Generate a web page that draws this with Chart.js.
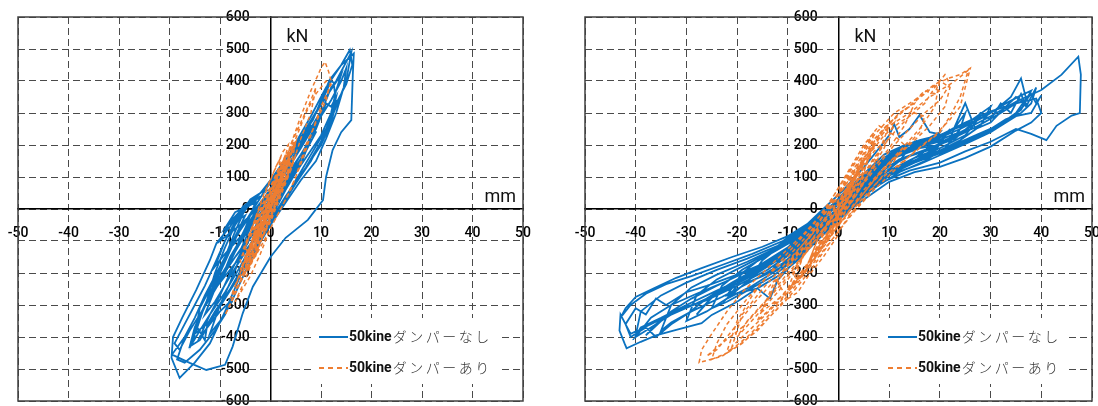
<!DOCTYPE html>
<html>
<head>
<meta charset="utf-8">
<script src="https://cdn.jsdelivr.net/npm/chart.js@4"></script>
<style>
html, body { margin: 0; padding: 0; background: #fff; }
.panel { position: absolute; top: 0; width: 549px; height: 406px; }
</style>
</head>
<body>
<div class="panel" style="left:0"><canvas id="leftChart" width="549" height="406"></canvas></div>
<div class="panel" style="left:549px"><canvas id="rightChart" width="549" height="406"></canvas></div>
<script>
// axis ranges / units
const xRange = [-50, 50];
const xStep = 10;
const yRange = [-600, 600];
const yStep = 100;
const unitX = 'mm';
const unitY = 'kN';
const seriesLabels = ['50kineダンパーなし', '50kineダンパーあり'];

// left panel: displacement (mm), load (kN)
const leftNoDamper = [
  [0,0],[2,50],[4,100],[5,130],[3,70],[0,-10],[-3,-70],[-6,-130],
  [-4,-60],[-1,10],[3,100],[6,170],[8,220],[6,140],[3,60],[0,-30],[-4,-110],[-8,-190],[-10,-230],
  [-8,-150],[-5,-70],[-2,10],[2,100],[6,200],[9,280],[11,330],[9,250],[6,170],[3,90],[0,0],[-4,-110],[-8,-210],[-11,-290],[-13,-330],
  [-11,-250],[-8,-160],[-5,-60],[-1,40],[3,140],[7,250],[10,330],[12,400],[12.5,395],[13,330],[12,270],[10,200],[7,130],[3,40],[-1,-60],[-5,-170],[-9,-280],[-12,-350],[-15,-390],
  [-14,-310],[-11,-220],[-8,-120],[-5,-40],[-1,60],[4,180],[8,290],[11,380],[14,450],[15.7,497],[16.2,450],[15,390],[13,330],[11,250],[8,170],[5,90],[2,10],[-2,-90],[-6,-210],[-9,-320],[-12,-420],[-15,-480],[-18,-528],
  [-19.6,-465],[-19.3,-400],[-17.5,-340],[-14.7,-253],[-12,-160],[-10.7,-107],[-8,-55],[-5.5,7],[-2,50],[0,90],[4,180],[8.4,278],[11.7,403],[14,450],[16.5,486],[16.3,420],[16,278],[14,240],[12.3,184],[11,100],[10.4,28],[7.4,-34],[3,-90],[0,-150],[-3.5,-243],[-5.5,-326],[-7.5,-430],[-9,-487],[-12.7,-503],[-16,-481],[-19.5,-455],
  [-17,-400],[-15,-340],[-13,-270],[-10,-180],[-7,-90],[-4,-20],[0,60],[4,150],[7,230],[10,300],[12,380],[13,400],[15,460],[16,490],[15,400],[13,320],[11,240],[8,150],[5,80],[1,-20],[-3,-120],[-7,-230],[-11,-330],[-14,-410],[-16,-430],
  [-15,-370],[-13,-300],[-11,-240],[-8,-160],[-5,-80],[-2,0],[2,90],[6,190],[9,270],[11,330],[12,320],[13,350],[12,280],[10,210],[7,130],[4,60],[0,-40],[-4,-140],[-8,-250],[-11,-320],[-12.5,-360],[-13,-410],[-14.5,-370],
  [-13,-300],[-11,-230],[-9,-150],[-7,-70],[-5,0],[-2,50],[2,130],[5,200],[8,260],[9,240],[7,180],[4,110],[1,30],[-3,-60],[-7,-150],[-10,-220],[-12.5,-280],
  [-11,-200],[-9,-120],[-7,-50],[-4,20],[0,80],[3,140],[6,210],[9,300],[11,350],[14,420],[13,370],[12,300],[10,230],[7,160],[4,90],[1,10],[-3,-90],[-6,-180],[-9,-260],[-12,-330],[-14,-380],[-15.5,-420],
  [-14,-340],[-12,-270],[-10,-200],[-8,-130],[-6,-60],[-3,0],[0,60],[3,130],[4,130],[2,70],[-1,0],[-5,-70],[-9,-140],[-11,-180],
  [-9,-100],[-7,-40],[-4,30],[-1,60],[1,50],[-2,10],[-6,-50],[-10,-100],[-8,-40],[-5,10],[-2,40],[-5,0],[-9,-60],[-7,-10],[-3,20],
  [-6,-100],[-9,-200],[-12,-280],[-14,-330],[-16,-380],[-18,-440],[-19,-420],[-17,-360],[-15,-300],[-13,-240],[-11,-170],[-9,-100],[-7,-40],[-5,-20],
  [-8,-120],[-11,-210],[-13,-270],[-15,-340],[-17,-400],[-18.5,-470],[-17,-480],[-14,-440],[-11,-380],[-9,-330],[-8,-290],[-10,-320],[-12,-360],[-14,-400],
  [-12,-330],[-10,-270],[-8,-200],[-6,-140],[-4,-80],[-1,-10],[2,40],[5,120],[8,230],[10,290],[12,340],[14,400],[15,440],[14.5,380],[13,300],[11,220],[9,150],[6,90],[3,20],[0,-50],
  [-3,-130],[-6,-230],[-8,-300],[-10,-350],[-12,-390],[-10,-300],[-8,-230],[-6,-150],[-4,-90],[-2,-20],[0,0]
];
const leftDamper = [
  [0,0],[2,60],[4,120],[5,170],[3,90],[1,20],[-1,-40],[-3,-100],[-5,-150],
  [-3,-80],[-1,-10],[1,60],[3,140],[5,210],[4,130],[2,60],[0,-20],[-2,-90],[-4,-160],[-6,-220],
  [-4,-150],[-2,-70],[0,20],[2,110],[4,200],[6,270],[8,340],[9,380],[8,300],[6,220],[4,120],[2,40],[0,-40],[-3,-130],[-6,-230],[-8,-300],[-9,-331],
  [-7,-260],[-4,-170],[-2,-80],[0,10],[2,100],[4,200],[6,290],[8,370],[10,440],[10.8,460],[11.5,430],[12,400],[11,340],[9,270],[7,200],[5,100],[3,30],[0,-60],[-2,-140],[-4,-210],[-7,-290],
  [-5,-220],[-3,-140],[-1,-50],[1,40],[3,130],[5,220],[7,300],[9,360],[11,400],[12,390],[10,320],[8,230],[6,140],[4,60],[1,-30],[-2,-120],[-5,-200],[-8,-280],
  [-6,-200],[-4,-120],[-2,-40],[0,40],[2,120],[4,190],[5,210],[3,120],[1,40],[-1,-40],[-3,-110],[-5,-180],[-7,-240],
  [-5,-160],[-3,-80],[-1,0],[1,80],[3,160],[4,180],[2,100],[0,20],[-2,-60],[-4,-130],[-3,-60],[-1,20],[1,100],[3,170],[2,90],[0,10],[-2,-80],[-1,-20],
  [0,0],[1,50],[3,120],[4,160],[2,80],[0,10],[-2,-60],[-4,-130],[-5,-180],[-3,-100],[-1,-30],[1,40],[3,100],[4,150],[2,50],[0,-30],[-2,-100],[-3,-150],
  [-1,-60],[1,20],[2,70],[3,110],[1,40],[-1,-20],[-3,-80],[-4,-120],[-2,-40],[0,30],[2,90],[3,130],[4,180],[5,200],[3,140],[1,60],[-1,-10],[-3,-90],[-5,-160],[-6,-190],
  [-4,-110],[-2,-30],[0,50],[2,130],[3,170],[1,90],[-1,20],[-2,-20],
  [-5,-170],[-3,-60],[-1,20],[1,90],[3,160],[4.5,210],[3,120],[1,40],[-1,-40],[-3,-120],[-5,-200],[-6,-160],[-4,-80],[-2,0],[0,70],[2,140],[4,190],[5,170],
  [3,90],[1,10],[-1,-70],[-3,-140],[-4.5,-190],[-5.5,-130],[-3.5,-50],[-1.5,40],[0.5,110],[2.5,180],[3.5,200],[2,100],[0,20],[-2,-60],[-4,-150],[-5,-120],
  [-3,-30],[-1,50],[1,130],[2,160],[1,70],[-1,-10],[-3,-100],[-4,-90],[-2,-10],[0,60],[1.5,120],[0.5,60],[-1.5,-20],[-2.5,-70],[0,0]
];

// right panel
const rightNoDamper = [
  [0,0],[3,60],[6,110],[9,150],[7,100],[4,50],[1,0],[-2,-50],[-5,-85],[-8,-120],
  [-6,-70],[-3,-20],[1,40],[5,100],[9,160],[12,190],[15,210],[12,150],[8,100],[4,40],[0,-20],[-4,-80],[-8,-140],[-11,-170],[-13,-190],
  [-10,-120],[-7,-80],[-3,-20],[1,50],[5,110],[9,170],[13,200],[17,215],[20,240],[17,180],[13,140],[9,100],[5,50],[1,-10],[-3,-70],[-7,-130],[-11,-180],[-15,-210],[-18,-230],
  [-15,-160],[-11,-110],[-7,-60],[-3,0],[1,60],[5,130],[8,190],[10,230],[11,265],[12,225],[14,250],[16,294],[18,240],[21,230],[19,190],[15,150],[11,115],[7,70],[3,10],[-1,-50],[-5,-110],[-9,-170],[-12,-222],[-13.5,-280],[-16,-248],[-19,-260],[-22,-270],
  [-19,-200],[-15,-150],[-11,-110],[-6,-60],[-1,10],[4,90],[9,160],[14,200],[19,220],[23,255],[25,300],[24,250],[21,190],[17,150],[12,115],[7,65],[2,0],[-3,-70],[-8,-150],[-13,-210],[-18,-255],[-22,-290],[-25,-310],
  [-23,-240],[-19,-190],[-14,-145],[-9,-100],[-4,-40],[1,40],[6,120],[11,180],[16,215],[21,235],[26,275],[30,320],[28,260],[24,215],[19,175],[14,140],[8,95],[3,30],[-2,-40],[-7,-120],[-12,-190],[-17,-240],[-22,-280],[-26,-320],[-30,-350],
  [-28,-270],[-24,-220],[-19,-180],[-14,-140],[-9,-95],[-4,-35],[1,45],[6,120],[11,175],[17,210],[22,245],[27,275],[31,310],[34,350],[36,408],[37,345],[35,300],[31,255],[26,215],[21,180],[15,145],[9,100],[4,40],[-1,-30],[-6,-100],[-11,-170],[-17,-225],[-23,-275],[-29,-320],[-33,-355],[-35,-380],
  [-33,-300],[-29,-245],[-24,-205],[-18,-165],[-12,-120],[-6,-60],[0,20],[6,110],[12,180],[18,210],[24,250],[29,290],[33,330],[36,355],[38,370],[36,310],[32,265],[27,230],[22,195],[16,155],[10,110],[5,55],[0,-15],[-6,-95],[-12,-160],[-18,-210],[-24,-255],[-30,-300],[-35,-340],[-39,-370],[-40,-395],
  [-39,-320],[-35,-270],[-30,-230],[-24,-190],[-18,-155],[-12,-115],[-6,-55],[0,20],[6,100],[12,175],[18,205],[24,240],[30,290],[35,335],[40,372],[44,420],[47.3,476],[47.8,420],[47.6,300],[46,292],[43,260],[41,215],[38,235],[35,250],[30,210],[25,180],[20,145],[14,120],[8,80],[3,20],[-2,-50],[-8,-125],[-14,-190],[-20,-240],[-26,-285],[-32,-320],[-37,-360],[-41,-390],[-43,-330],[-43.2,-380],[-42.2,-420],[-41.8,-435],
  [-39,-415],[-36,-395],[-32,-378],[-27,-357],[-25,-331],[-20,-290],[-16,-248],[-12,-210],[-8,-160],[-4,-95],[0,-30],[5,30],[10,85],[15,115],[20,132],[25,160],[30,195],[35,245],[38,270],[40,300],[39,345],
  [35,330],[30,305],[25,270],[20,230],[15,200],[10,160],[5,100],[0,30],[-5,-35],[-10,-85],[-15,-118],[-21,-150],[-27,-185],[-32,-215],[-36,-245],[-40,-275],[-42,-310],[-43,-340],
  [-41,-300],[-38,-265],[-34,-235],[-29,-210],[-23,-175],[-17,-140],[-11,-100],[-6,-50],[-1,15],[4,85],[9,150],[15,190],[21,215],[27,255],[32,300],[35,330],[37,340],[38,360],[39,330],[40,355],[38,300],
  [35,290],[31,250],[26,215],[20,180],[14,140],[8,90],[2,20],[-4,-70],[-10,-140],[-16,-200],[-22,-250],[-28,-295],[-33,-330],[-37,-370],[-40,-400],
  [-37,-340],[-33,-300],[-28,-265],[-22,-225],[-16,-180],[-10,-125],[-4,-55],[1,20],[6,90],[12,155],[18,190],[22,220],[23,260],[25,331],[27,250],[30,270],[33,320],[35,350],[37,330],
  [34,280],[30,240],[26,210],[21,175],[16,140],[10,105],[5,55],[0,-10],[-6,-90],[-12,-150],[-18,-195],[-24,-240],[-29,-280],[-33,-320],[-36,-360],[-38,-395],
  [-35,-350],[-31,-310],[-27,-290],[-22,-250],[-17,-205],[-12,-160],[-7,-100],[-2,-25],[3,50],[8,115],[13,160],[18,190],[23,220],[28,290],
  [25,230],[20,190],[15,160],[10,120],[5,70],[0,0],[-5,-75],[-10,-130],[-15,-180],[-20,-225],[-25,-275],[-28,-330],
  [-24,-260],[-19,-215],[-14,-175],[-9,-120],[-4,-55],[1,20],[6,95],[11,160],[16,190],[20,200],[25,240],[28,300],[30,280],[32,330],[34,300],[36,360],[37,320],[39,380],[38,330],[36,300],[33,280],[30,250],[26,220],
  [22,195],[17,165],[12,130],[7,85],[2,20],[-3,-50],[-8,-110],[-14,-165],[-20,-205],[-26,-240],[-30,-260],[-34,-300],[-36,-280],[-38,-330],[-40,-310],[-42,-360],[-41,-400],[-38,-370],[-36,-400],[-33,-360],[-30,-330],
  [-26,-280],[-21,-230],[-16,-185],[-11,-140],[-6,-80],[-1,-10],[4,60],[9,125],[14,165],[19,190],[22,250],
  [19,180],[14,145],[9,100],[4,45],[-1,-25],[-6,-90],[-11,-150],[-16,-200],[-22,-280],
  [-18,-200],[-13,-150],[-8,-100],[-3,-30],[2,45],[7,115],[12,180],
  [9,120],[5,65],[1,5],[-4,-65],[-8,-120],[-12,-170],
  [-9,-100],[-5,-50],[-1,5],[3,55],[6,100],[4,50],[1,5],[-2,-35],[-5,-70],[0,0]
];
const rightDamper = [
  [0,0],[2,60],[4,120],[6,160],[4,70],[1,-20],[-2,-90],[-5,-150],
  [-3,-70],[0,20],[3,110],[6,180],[9,240],[11,270],[9,190],[6,110],[3,30],[-1,-60],[-4,-140],[-8,-220],[-10,-250],
  [-8,-170],[-5,-90],[-2,-10],[2,90],[5,170],[9,250],[12,300],[15,330],[13,260],[10,190],[6,110],[2,20],[-2,-80],[-6,-170],[-10,-250],[-14,-320],[-16,-350],
  [-13,-240],[-10,-170],[-6,-90],[-2,0],[2,100],[6,200],[10,270],[14,320],[17,370],[19,360],[20,405],[19,320],[16,250],[12,180],[8,110],[4,30],[0,-50],[-4,-140],[-8,-230],[-12,-310],[-16,-380],[-20,-430],[-22,-445],
  [-20,-350],[-17,-270],[-13,-190],[-9,-120],[-5,-50],[-1,40],[3,140],[7,230],[11,300],[15,340],[19,390],[22,410],[24,420],[26,440],[25,380],[24,320],[22,280],[19,230],[15,180],[11,120],[7,60],[3,-10],[-1,-90],[-5,-180],[-10,-280],[-15,-360],[-19,-420],[-23,-460],[-27.5,-480],
  [-27,-440],[-25,-390],[-22,-320],[-19,-260],[-15,-200],[-11,-140],[-7,-80],[-3,-10],[1,70],[5,160],[9,250],[13,310],[17,360],[20,400],[22,380],[21,320],[18,260],[14,200],[10,140],[6,70],[2,-10],[-3,-110],[-8,-220],[-13,-320],[-18,-400],[-22,-450],[-25,-470],
  [-24,-420],[-22,-360],[-18,-280],[-14,-210],[-10,-150],[-6,-80],[-2,0],[2,90],[6,180],[10,260],[14,300],[18,350],[21,380],[23,400],[25.6,434],[24,350],[22,290],[20,240],[16,190],[12,140],[8,90],[4,20],[0,-70],[-5,-170],[-10,-260],[-15,-340],[-19,-400],[-21,-430],
  [-19,-330],[-15,-250],[-11,-180],[-7,-110],[-3,-40],[1,50],[5,150],[9,230],[12,270],[15,300],[17,290],[16,240],[13,190],[9,130],[5,60],[1,-30],[-3,-120],[-7,-200],[-11,-270],[-15,-320],
  [-12,-220],[-8,-150],[-4,-70],[0,20],[4,110],[7,180],[9,210],[7,140],[4,60],[0,-30],[-3,-110],[-6,-170],[-4,-90],[-1,-10],[2,70],[4,120],[2,40],[-1,-40],
  [0,0],[2,70],[4,130],[5,160],[3,80],[0,0],[-2,-70],[-4,-120],[-6,-170],[-4,-90],[-1,-20],[2,60],[4,120],[6,180],[7,200],[5,120],[2,40],[-1,-40],[-3,-110],[-5,-160],
  [-3,-80],[0,10],[3,90],[5,150],[3,60],[0,-20],
  [-3,-60],[-7,-150],[-11,-230],[-15,-300],[-19,-370],[-23,-420],[-26,-460],[-24,-440],[-21,-380],[-17,-300],[-13,-230],[-9,-160],[-5,-90],
  [-8,-180],[-12,-260],[-16,-330],[-20,-400],[-18,-350],[-14,-280],[-10,-200],[-6,-130],[-2,-40],
  [0,0],[3,100],[6,170],[8,220],[10,260],[8,180],[5,100],[2,30],[-1,-50],[-4,-120],[-7,-190],[-9,-230],[-7,-150],[-4,-70],[-1,20],[2,110],[5,190],[7,240],
  [6,160],[3,70],[0,-20],[-3,-100],[-6,-170],[-4,-110],[-1,-20],[2,60],[4,130],[2,50],[-1,-40],
  [3,60],[7,160],[11,240],[14,290],[17,330],[19,380],[21,420],[22,390],[20,340],[17,300],[14,250],[11,200],[8,140],[5,80],[2,10],[-2,-70],
  [2,-20],[5,30],[8,90],[11,150],[13,200],[11,230],[8,260],[5,200],[2,120],[-1,40],[-4,-50],[-7,-120],[-10,-170],[-12,-230],[-10,-280],[-8,-260],[-6,-210],[-3,-150],[0,-80],[0,0]
];

const toPoints = arr => arr.map(p => ({ x: p[0], y: p[1] }));

const decor = {
  id: 'decor',
  afterDraw(chart) {
    const { ctx, chartArea: a } = chart;
    const x0 = chart.scales.x.getPixelForValue(0);
    const y0 = chart.scales.y.getPixelForValue(0);
    ctx.save();
    // plot frame
    ctx.strokeStyle = '#404040';
    ctx.lineWidth = 1.5;
    ctx.strokeRect(a.left, a.top, a.right - a.left, a.bottom - a.top);
    // units
    ctx.fillStyle = '#111';
    ctx.font = '18px Roboto';
    ctx.textAlign = 'left';
    ctx.textBaseline = 'middle';
    ctx.fillText(unitY, x0 + 16, a.top + 20);
    ctx.textAlign = 'right';
    ctx.textBaseline = 'alphabetic';
    ctx.fillText(unitX, a.right - 7, y0 - 7);
    // legend
    const bx = a.right - 212, by = a.bottom - 83;
    ctx.fillStyle = '#fff';
    ctx.fillRect(bx, by, 188, 66);
    chart.data.datasets.forEach((ds, i) => {
      const ly = by + 19 + i * 31;
      ctx.strokeStyle = ds.borderColor;
      ctx.lineWidth = 2;
      ctx.setLineDash(ds.borderDash ? [5, 4] : []);
      ctx.beginPath();
      ctx.moveTo(bx + 8, ly);
      ctx.lineTo(bx + 37, ly);
      ctx.stroke();
      ctx.setLineDash([]);
      const head = ds.label.match(/^[\x00-\x7F]+/)[0];
      const tail = ds.label.slice(head.length);
      ctx.textAlign = 'left';
      ctx.textBaseline = 'middle';
      ctx.fillStyle = '#111';
      ctx.font = 'bold 14px Roboto';
      ctx.fillText(head, bx + 38, ly);
      const w = ctx.measureText(head).width;
      ctx.fillStyle = '#333';
      ctx.font = '300 14px "Noto Sans CJK JP"';
      ctx.letterSpacing = '2.5px';
      ctx.fillText(tail, bx + 39 + w, ly);
      ctx.letterSpacing = '0px';
    });
    ctx.restore();
  }
};

// keep the centred axes from eating into the plot area
const noAxisSpace = s => {
  s.paddingLeft = 0; s.paddingRight = 0; s.paddingTop = 0; s.paddingBottom = 0;
  if (s.isHorizontal()) s.height = 0; else s.width = 0;
};

function makeChart(id, noDamper, damper, pad) {
  new Chart(document.getElementById(id), {
    type: 'scatter',
    data: {
      datasets: [
        {
          label: seriesLabels[0],
          data: toPoints(noDamper),
          showLine: true,
          borderColor: '#0b72c0',
          borderWidth: 1.8,
          pointRadius: 0,
          order: 1
        },
        {
          label: seriesLabels[1],
          data: toPoints(damper),
          showLine: true,
          borderColor: '#ee7d31',
          borderWidth: 1.5,
          borderDash: [4, 3],
          pointRadius: 0,
          order: 0
        }
      ]
    },
    options: {
      responsive: false,
      animation: false,
      devicePixelRatio: 1,
      layout: { padding: pad },
      plugins: { legend: { display: false }, tooltip: { enabled: false } },
      scales: {
        x: {
          type: 'linear',
          min: xRange[0], max: xRange[1],
          position: { y: 0 },
          afterFit: noAxisSpace,
          grid: { color: '#4a4a4a', lineWidth: 1, drawTicks: false },
          border: { color: '#000', width: 1.5, dash: [7, 4] },
          ticks: { stepSize: xStep, autoSkip: false, maxRotation: 0, padding: 16, color: '#000', font: { family: 'Roboto', size: 14, weight: '500' } }
        },
        y: {
          type: 'linear',
          min: yRange[0], max: yRange[1],
          position: { x: 0 },
          afterFit: noAxisSpace,
          grid: { color: '#4a4a4a', lineWidth: 1, drawTicks: false },
          border: { color: '#000', width: 1.5, dash: [7, 4] },
          ticks: {
            stepSize: yStep, autoSkip: false, padding: 0, color: '#000',
            font: { family: 'Roboto', size: 14, weight: '500' },
            callback: v => v + '      '
          }
        }
      }
    },
    plugins: [decor]
  });
}

makeChart('leftChart', leftNoDamper, leftDamper, { left: 18, right: 26, top: 17, bottom: 5 });
makeChart('rightChart', rightNoDamper, rightDamper, { left: 36, right: 6, top: 17, bottom: 5 });
</script>
</body>
</html>
